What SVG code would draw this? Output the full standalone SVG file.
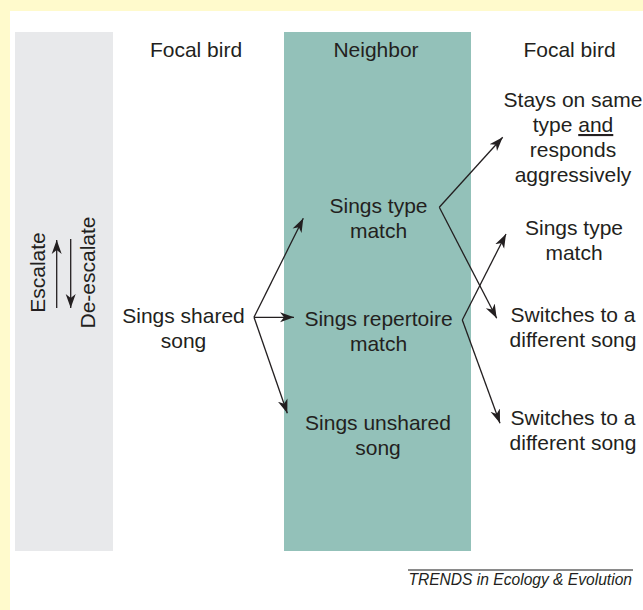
<svg xmlns="http://www.w3.org/2000/svg" width="643" height="610" viewBox="0 0 643 610">
<defs>
<style>
text{font-family:"Liberation Sans",Arial,Helvetica,sans-serif;font-size:21px;fill:#231f20;text-anchor:middle}
.conn path{fill:none;stroke:#231f20;stroke-width:1.3;marker-end:url(#ah)}
.credit{font-size:15.6px;font-style:italic;text-anchor:end}
</style>
<marker id="ah" viewBox="-14 -6 15 12" refX="0" refY="0" markerWidth="15" markerHeight="12" markerUnits="userSpaceOnUse" orient="auto">
<path d="M0,0 L-14,-5 L-10,0 L-14,5 Z" fill="#231f20"/>
</marker>
</defs>
<rect x="0" y="0" width="643" height="610" fill="#fffacc"/>
<rect x="10" y="11" width="633" height="599" fill="#ffffff"/>
<rect id="scale-band" x="15" y="32" width="98" height="519" fill="#e8e9eb"/>
<rect id="neighbor-band" x="284" y="32" width="187" height="519" fill="#93c1b9"/>

<g id="headers">
<text x="196" y="57">Focal bird</text>
<text x="376" y="57">Neighbor</text>
<text x="569.5" y="57">Focal bird</text>
</g>

<g id="escalate">
<text transform="translate(45,272.5) rotate(-90)">Escalate</text>
<text transform="translate(95,272.5) rotate(-90)">De-escalate</text>
</g>

<g id="node-shared"><text x="183.5" y="323">Sings shared</text><text x="183.5" y="348">song</text></g>
<g id="node-type"><text x="378.5" y="212.5">Sings type</text><text x="378.5" y="237.5">match</text></g>
<g id="node-repertoire"><text x="378.5" y="325.5">Sings repertoire</text><text x="378.5" y="350.5">match</text></g>
<g id="node-unshared"><text x="378" y="430">Sings unshared</text><text x="378" y="455">song</text></g>
<g id="node-stays"><text x="573" y="107">Stays on same</text><text x="573" y="132">type <tspan text-decoration="underline">and</tspan></text><text x="573" y="157">responds</text><text x="573" y="182">aggressively</text></g>
<g id="node-typematch"><text x="574" y="235">Sings type</text><text x="574" y="260">match</text></g>
<g id="node-switch1"><text x="573" y="322">Switches to a</text><text x="573" y="347">different song</text></g>
<g id="node-switch2"><text x="573" y="425">Switches to a</text><text x="573" y="450">different song</text></g>

<g id="connectors" class="conn">
<path d="M56.7,308 L56.7,240"/>
<path d="M70.7,239 L70.7,308"/>
<path d="M254,317.3 L303.3,218.3"/>
<path d="M254,317.3 L294,317.3"/>
<path d="M254,317.3 L287.3,413.3"/>
<path d="M439.3,207.3 L502.7,137.3"/>
<path d="M439.3,207.3 L496.7,318.3"/>
<path d="M462.3,320 L506,234"/>
<path d="M462.3,320 L500,423.3"/>
</g>

<g id="credit">
<line x1="408" y1="570" x2="633" y2="570" stroke="#8a8a8a" stroke-width="1.8"/>
<text class="credit" x="632" y="585">TRENDS in Ecology &amp; Evolution</text>
</g>
</svg>
